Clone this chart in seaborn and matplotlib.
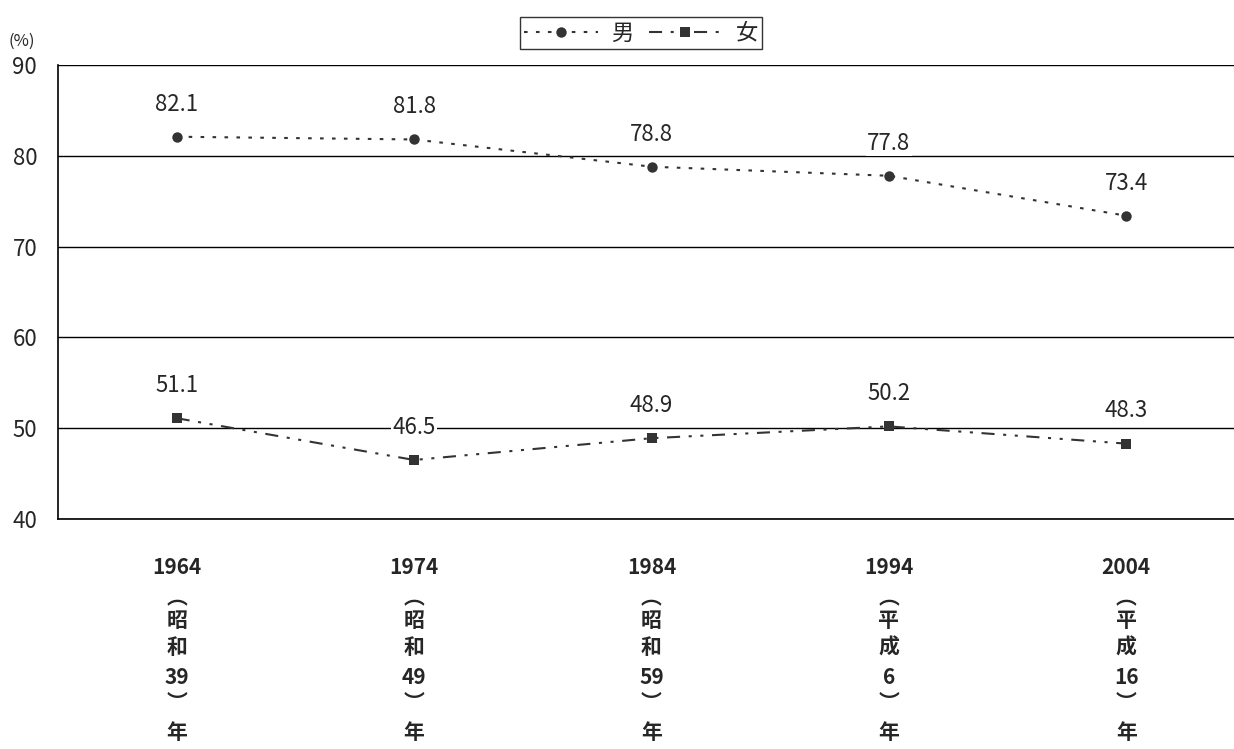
import matplotlib
matplotlib.use("Agg")
import matplotlib.pyplot as plt
import seaborn as sns
import pandas as pd

# 調査年と男女別の割合（%）
years = ["1964", "1974", "1984", "1994", "2004"]
eras = [["昭", "和", "39"], ["昭", "和", "49"], ["昭", "和", "59"],
        ["平", "成", "6"], ["平", "成", "16"]]
male = [82.1, 81.8, 78.8, 77.8, 73.4]
female = [51.1, 46.5, 48.9, 50.2, 48.3]
series_names = ["男", "女"]
y_ticks = [40, 50, 60, 70, 80, 90]

sns.set_theme(style="white")
plt.rcParams["font.family"] = ["Noto Sans CJK JP", "DejaVu Sans"]
plt.rcParams["lines.scale_dashes"] = False

df = pd.DataFrame({
    "year": years * 2,
    "value": male + female,
    "sex": [series_names[0]] * len(years) + [series_names[1]] * len(years),
})

fig = plt.figure(figsize=(12.34, 7.49), dpi=100)
W, H = 1234, 749
left, right, top, bottom = 58, 1245, 65, 519
ax = fig.add_axes([left / W, 1 - bottom / H, (right - left) / W, (bottom - top) / H])

ink = "#333333"
sns.lineplot(
    data=df, x="year", y="value", hue="sex", style="sex",
    palette={"男": ink, "女": ink},
    markers={"男": "o", "女": "s"},
    dashes={"男": (2.6, 6), "女": (9.4, 6.2, 2.2, 6.2, 2.2, 6.2)},
    markersize=7.5, markeredgewidth=0, linewidth=1.5,
    sort=False, ax=ax, legend=True, zorder=3,
)

ax.set_xlim(-0.5, 4.5)
ax.set_ylim(40, 90)
ax.set_yticks(y_ticks)
ax.set_yticklabels([str(t) for t in y_ticks], fontsize=16)
ax.yaxis.grid(True, color="black", linewidth=1)
ax.set_axisbelow(True)
for s in ["top", "right"]:
    ax.spines[s].set_visible(False)
for s in ["left", "bottom"]:
    ax.spines[s].set_color("black")
    ax.spines[s].set_linewidth(1.2)
ax.tick_params(axis="y", length=0, pad=15)
ax.tick_params(axis="x", length=0)
ax.set_xlabel("")
ax.set_ylabel("")

# 年の下に元号を縦書きで添える（各文字の縦位置、軸下端からのpt）
ax.set_xticks(range(len(years)))
ax.set_xticklabels(["" for _ in years])
stack_offsets = [56.9, 73.4, 92.2, 113.8, 131.8, 153.4]
for i, (yr, era) in enumerate(zip(years, eras)):
    ax.annotate(yr, xy=(i, 0), xycoords=("data", "axes fraction"),
                xytext=(0, -34.6), textcoords="offset points",
                ha="center", va="center", fontsize=15, fontweight="bold")
    pieces = ["︵"] + era + ["︶", "年"]
    for piece, off in zip(pieces, stack_offsets):
        ax.annotate(piece, xy=(i, 0), xycoords=("data", "axes fraction"),
                    xytext=(0, -off), textcoords="offset points",
                    ha="center", va="center", fontsize=15, fontweight="bold")

# 値ラベル
for vals in (male, female):
    for i, v in enumerate(vals):
        ax.annotate(f"{v:.1f}", xy=(i, v), xytext=(0, 23.5), textcoords="offset points",
                    ha="center", va="center", fontsize=16, zorder=4,
                    bbox=dict(boxstyle="square,pad=0.05", fc="white", ec="none"))

fig.text(8 / W, 1 - 41 / H, "(%)", fontsize=12, ha="left", va="center")

handles, labels = ax.get_legend_handles_labels()
leg = ax.legend(handles, labels, loc="center", bbox_to_anchor=(641 / W, 1 - 33 / H),
                bbox_transform=fig.transFigure, ncol=2, frameon=True, fancybox=False,
                fontsize=16, handlelength=3.3, handletextpad=0.6, columnspacing=0.7,
                borderpad=0.2, title=None)
leg.get_frame().set_edgecolor("black")
leg.get_frame().set_linewidth(1)

fig.savefig("out.png", dpi=100)
